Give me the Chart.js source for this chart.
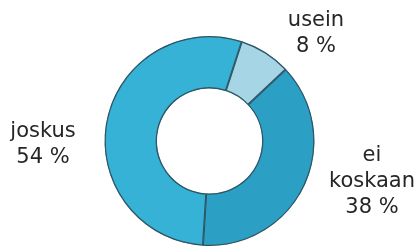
<!DOCTYPE html>
<html>
<head>
<meta charset="utf-8">
<script src="https://cdn.jsdelivr.net/npm/chart.js@4/dist/chart.umd.min.js"></script>
<style>
  html, body { margin: 0; padding: 0; background: #fff; }
  #wrap { width: 419px; height: 247px; }
</style>
</head>
<body>
<div id="wrap"><canvas id="kaavio"></canvas></div>
<script>
// vastaukset
const luokat = ['usein', 'ei koskaan', 'joskus'];
const osuudet = [8, 38, 54];
const varit = ['#a6d5e5', '#2b9fc4', '#37b2d7'];

// tekstien paikat (keskikohta, ensimmäisen rivin pohjaviiva)
const tekstiPaikat = [
    { x: 316, y: 26, rivit: ['usein'] },
    { x: 372, y: 161, rivit: ['ei', 'koskaan'] },
    { x: 43, y: 137, rivit: ['joskus'] }
];

function vari(ctx) {
    const chart = ctx.chart;
    const meta = chart.getDatasetMeta(0);
    const arc = meta.data[ctx.dataIndex];
    const c = varit[ctx.dataIndex];
    if (!arc || !arc.outerRadius) return c;
    const r0 = arc.innerRadius, r1 = arc.outerRadius;
    const g = chart.ctx.createRadialGradient(arc.x, arc.y, r0, arc.x, arc.y, r1);
    g.addColorStop(0, shade(c, -0.3));
    g.addColorStop(0.12, c);
    g.addColorStop(0.5, shade(c, 0.05));
    g.addColorStop(0.9, c);
    g.addColorStop(1, shade(c, -0.25));
    return g;
}

function shade(hex, p) {
    const r = parseInt(hex.substr(1, 2), 16);
    const gg = parseInt(hex.substr(3, 2), 16);
    const b = parseInt(hex.substr(5, 2), 16);
    const f = (v) => {
        v = p < 0 ? v * (1 + p) : v + (255 - v) * p;
        return Math.round(Math.max(0, Math.min(255, v)));
    };
    return 'rgb(' + f(r) + ',' + f(gg) + ',' + f(b) + ')';
}

const tekstit = {
    id: 'tekstit',
    afterDraw(chart) {
        const ctx = chart.ctx;
        ctx.save();
        ctx.font = '21px "DejaVu Sans", Verdana, sans-serif';
        ctx.fillStyle = '#262626';
        ctx.textAlign = 'center';
        ctx.textBaseline = 'alphabetic';
        tekstiPaikat.forEach(function(p, i) {
            const rivit = p.rivit.concat([osuudet[i] + ' %']);
            rivit.forEach(function(t, j) {
                ctx.fillText(t, p.x, p.y + j * 26);
            });
        });
        ctx.restore();
    }
};

new Chart(document.getElementById('kaavio'), {
    type: 'doughnut',
    data: {
        labels: luokat,
        datasets: [{
            data: osuudet,
            backgroundColor: vari,
            borderColor: '#2f5766',
            borderWidth: 1,
            borderAlign: 'inner'
        }]
    },
    options: {
        responsive: true,
        maintainAspectRatio: false,
        animation: false,
        rotation: 18,
        cutout: '50%',
        layout: { padding: { top: 36, bottom: 1 } },
        plugins: {
            legend: { display: false },
            tooltip: { enabled: false }
        }
    },
    plugins: [tekstit]
});
</script>
</body>
</html>
